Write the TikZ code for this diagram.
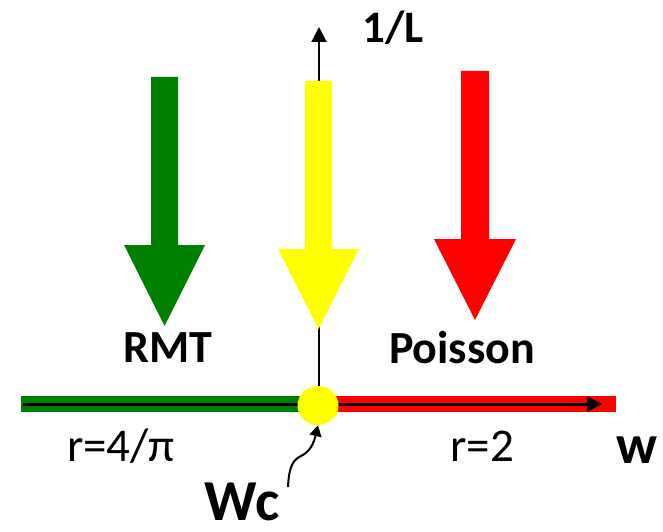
\documentclass[tikz,border=0pt]{standalone}
\usepackage{fontspec}
\setmainfont{Carlito}
\usetikzlibrary{arrows.meta,shapes.geometric}
\definecolor{dgreen}{RGB}{0,128,0}
\definecolor{myyellow}{RGB}{255,255,0}
\definecolor{myred}{RGB}{255,0,0}
\tikzset{
  bigtext/.style={anchor=base, inner sep=0pt, font=\fontsize{46}{50}\selectfont\bfseries},
  regtext/.style={anchor=base, inner sep=0pt, font=\fontsize{47}{50}\selectfont},
  axisline/.style={draw=black, -{Triangle[length=15pt,width=15pt]}},
}
\begin{document}
\begin{tikzpicture}[x=1pt,y=-1pt]
\useasboundingbox (0,0) rectangle (663,532);
% horizontal bars
\fill[dgreen] (21,396) rectangle (318,412);
\fill[myred] (318,396) rectangle (616,412);
% coordinates
\coordinate (xleft) at (23,404);
\coordinate (xright) at (602,404);
\coordinate (ytop) at (319,27);
\coordinate (ybot) at (319,404);
% axes
\draw[axisline, line width=3pt] (xleft) -- (xright);
\draw[axisline, line width=2pt] (ybot) -- (ytop);
% big arrows
\fill[dgreen] (151,77)--(178,77)--(178,245)--(205,245)--(164.5,326)--(124,245)--(151,245)--cycle;
\fill[myyellow] (305,81)--(332,81)--(332,249)--(359,249)--(318.5,329)--(278,249)--(305,249)--cycle;
\fill[myred] (461,71)--(489,71)--(489,239)--(516,239)--(475,320)--(434,239)--(461,239)--cycle;
% critical point
\node[ellipse, fill=myyellow, minimum width=41pt, minimum height=39pt, inner sep=0pt] (wc) at (318,405.5) {};
% labels
\node[bigtext, font=\fontsize{45}{50}\selectfont\bfseries] (invL) at (393,43) {1/L};
\node[bigtext] (rmt) at (168,362) {RMT};
\node[bigtext] (poisson) at (462,363) {Poisson};
\node[regtext] (r1) at (121,461) {r=4/π};
\node[regtext] (r2) at (482,461) {r=2};
\node[bigtext, font=\fontsize{55}{60}\selectfont\bfseries] (w) at (637,463) {w};
\node[bigtext, font=\fontsize{58}{62}\selectfont\bfseries] (wclabel) at (242,520) {Wc};
% pointer to critical point
\coordinate (wcstart) at (288,487);
\draw[line width=2pt, -{Triangle[length=11pt,width=12pt]}] (wcstart) .. controls (289,466) and (293,460) .. (301,456) .. controls (311,451) and (314,442) .. (wc.south);
\end{tikzpicture}
\end{document}
